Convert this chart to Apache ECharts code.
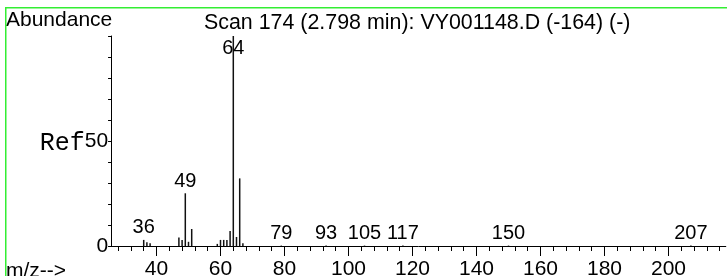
<!DOCTYPE html>
<html><head><meta charset="utf-8">
<script src="https://cdn.jsdelivr.net/npm/echarts@6/dist/echarts.min.js"></script>
<style>html,body{margin:0;padding:0;background:#fff}#c{width:727px;height:276px}</style>
</head><body><div id="c"></div>
<script>
// ---- data ----
const mz = [36,37,38,47,48,49,50,51,59,60,61,62,63,64,65,66,67,79,93,105,117,150,207];
const abundance = [2.9,1.8,1.3,4.1,2.9,25.1,2.0,8.1,1.0,2.9,2.9,2.9,7.1,100,4.3,32.2,1.3,0.2,0.2,0.2,0.2,0.2,0.2];
const labeledPeaks = [36,49,64,79,93,105,117,150,207];
const xTickLabels = [40,60,80,100,120,140,160,180,200];
const yTickLabels = [0,50];
const yRefLabel = 'Ref';
const titleLeft = 'Abundance';
const titleMain = 'Scan 174 (2.798 min): VY001148.D (-164) (-)';
const xAxisName = 'm/z-->';

// ---- layout ----
const W = 727;
const px0 = 28.5, pxPerUnit = 3.2;
const px = m => px0 + pxPerUnit * m;
const xStart = 25.8, xEnd = 217.9;
const gTop = 36, gBottom = 30;
const sans = 'Liberation Sans, Arial, sans-serif';
const black = '#000';

const chart = echarts.init(document.getElementById('c'), null, {renderer: 'canvas'});
const txt = (size) => ({fontFamily: sans, fontSize: size, fontWeight: 'normal', color: black, lineHeight: size});

const data = mz.map((m, i) => {
  const item = {value: [m, abundance[i]]};
  if (labeledPeaks.includes(m)) {
    item.label = {show: true, position: abundance[i] >= 90 ? 'insideTop' : 'top', distance: 2};
  }
  return item;
});

const gridBase = {top: gTop, bottom: gBottom, containLabel: false, outerBoundsMode: 'none'};

chart.setOption({
  animation: false,
  backgroundColor: '#fff',
  title: [
    {text: titleLeft, left: 6, top: 9.5, padding: 0, textStyle: txt(21)},
    {text: titleMain, left: 204, top: 12, padding: 0, textStyle: txt(21.4)},
    {text: xAxisName, left: 6, top: 261, padding: 0, textStyle: txt(21)}
  ],
  graphic: [{
    type: 'rect', silent: true, z: 100,
    shape: {x: 5.75, y: 7.75, width: 900, height: 400},
    style: {fill: 'none', stroke: '#33ee33', lineWidth: 1.5}
  }],
  grid: [
    {...gridBase, left: px(xStart), right: W - px(xEnd)},
    {...gridBase, left: px(28), right: W - px(216)},
    {...gridBase, left: px(40), right: W - px(200)}
  ],
  xAxis: [
    {type: 'value', gridIndex: 0, min: xStart, max: xEnd,
     axisLine: {show: true, lineStyle: {color: black, width: 1}},
     axisTick: {show: false}, axisLabel: {show: false}, splitLine: {show: false}},
    {type: 'value', gridIndex: 1, min: 28, max: 216, interval: 4, position: 'bottom',
     axisLine: {show: false, onZero: false}, axisTick: {show: true, inside: false, length: 5, lineStyle: {color: black, width: 1}},
     axisLabel: {show: false}, splitLine: {show: false}},
    {type: 'value', gridIndex: 2, min: 40, max: 200, interval: 20, position: 'bottom',
     axisLine: {show: false, onZero: false}, axisTick: {show: true, inside: false, length: 10, lineStyle: {color: black, width: 1}},
     axisLabel: {show: true, margin: 13, ...txt(21), formatter: v => xTickLabels.includes(v) ? String(v) : ''},
     splitLine: {show: false}}
  ],
  yAxis: [
    {type: 'value', gridIndex: 0, min: 0, max: 100, interval: 10,
     axisLine: {show: true, lineStyle: {color: black, width: 1}},
     axisTick: {show: true, length: 3, lineStyle: {color: black, width: 1},
       interval: (i, v) => v < 100},
     axisLabel: {show: true, margin: 3,
       formatter: v => yTickLabels.includes(v) ? (v === 50 ? '{r|' + yRefLabel + '}{n|' + v + '}' : '{n|' + v + '}') : '',
       rich: {
         r: {fontFamily: 'Liberation Mono, monospace', fontSize: 25, color: black, lineHeight: 25, padding: [4, 0, 0, 0]},
         n: {fontFamily: sans, fontSize: 21, color: black, lineHeight: 21}
       }},
     splitLine: {show: false}},
    {type: 'value', gridIndex: 1, show: false, min: 0, max: 100},
    {type: 'value', gridIndex: 2, show: false, min: 0, max: 100}
  ],
  series: [{
    type: 'bar', xAxisIndex: 0, yAxisIndex: 0,
    barWidth: 1.5,
    itemStyle: {color: '#111'},
    label: {show: false, formatter: p => String(p.value[0]), ...txt(20)},
    data: data
  }]
});
</script></body></html>
